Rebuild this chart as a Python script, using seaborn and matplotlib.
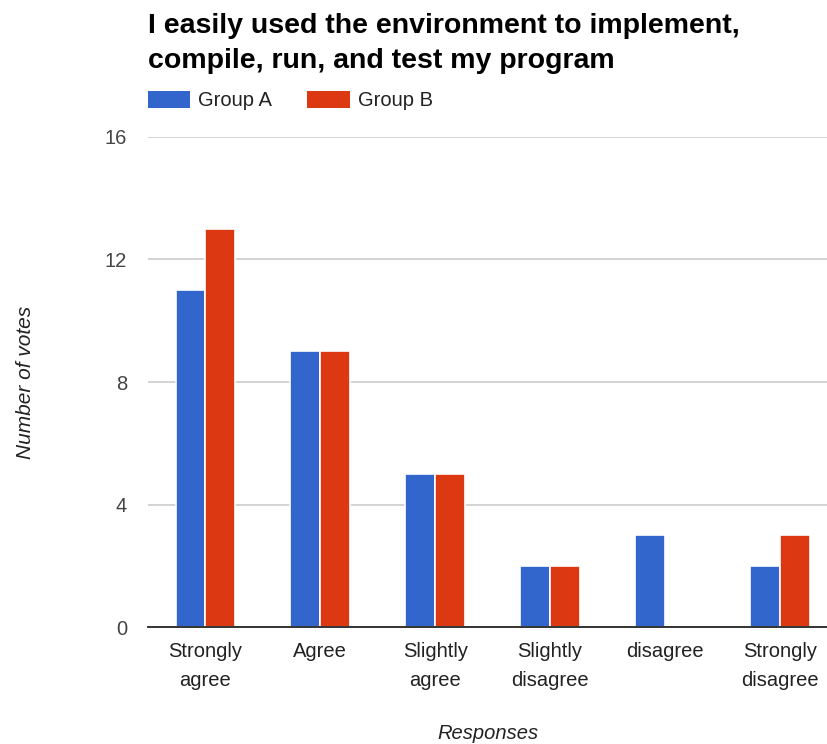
import matplotlib
matplotlib.use("Agg")
import matplotlib.pyplot as plt
import seaborn as sns
import pandas as pd
from matplotlib.patches import Patch

categories = ["Strongly\nagree", "Agree", "Slightly\nagree", "Slightly\ndisagree",
              "disagree", "Strongly\ndisagree"]
group_a = [11, 9, 5, 2, 3, 2]
group_b = [13, 9, 5, 2, 0, 3]
groups = ["Group A", "Group B"]
colors = ["#3366CC", "#DC3912"]
y_ticks = [0, 4, 8, 12, 16]

df = pd.DataFrame({
    "Responses": categories * 2,
    "Votes": group_a + group_b,
    "Group": [groups[0]] * len(categories) + [groups[1]] * len(categories),
})

sns.set_theme(style="white")
plt.rcParams["font.family"] = ["Liberation Sans", "DejaVu Sans"]

fig = plt.figure(figsize=(8.27, 7.44), dpi=100)
ax = fig.add_axes([0.179, 0.157, 0.821, 0.659])

sns.barplot(data=df, x="Responses", y="Votes", hue="Group", palette=colors,
            width=0.52, saturation=1, edgecolor="white", linewidth=1.2,
            ax=ax, legend=False)

ax.set_ylim(0, 16)
ax.set_xlim(-0.5, 5.41)
ax.set_yticks(y_ticks)
ax.grid(axis="y", color="#cccccc", linewidth=1.2)
ax.set_axisbelow(True)
for s in ["top", "right", "left"]:
    ax.spines[s].set_visible(False)
ax.spines["bottom"].set_color("#333333")
ax.spines["bottom"].set_linewidth(1.4)
ax.tick_params(axis="both", length=0, labelsize=14.5, colors="#222222")
ax.tick_params(axis="y", pad=15, labelcolor="#444444")
ax.tick_params(axis="x", pad=11)
for lbl in ax.get_xticklabels():
    lbl.set_linespacing(1.65)

ax.set_xlabel("Responses", fontsize=14.5, style="italic", color="#222222", labelpad=24)
ax.set_ylabel("Number of votes", fontsize=15, style="italic", color="#222222", labelpad=50)

fig.text(0.179, 0.983, "I easily used the environment to implement,\ncompile, run, and test my program",
         ha="left", va="top", fontsize=20.5, fontweight="bold", color="black", linespacing=1.45)

handles = [Patch(facecolor=c, edgecolor="none") for c in colors]
fig.legend(handles, groups, loc="center left", bbox_to_anchor=(0.157, 0.865),
           ncol=2, frameon=False, fontsize=14.5, handlelength=2.1, handleheight=0.95,
           handletextpad=0.4, columnspacing=1.75, labelcolor="#222222")

fig.savefig("out.png", dpi=100)
